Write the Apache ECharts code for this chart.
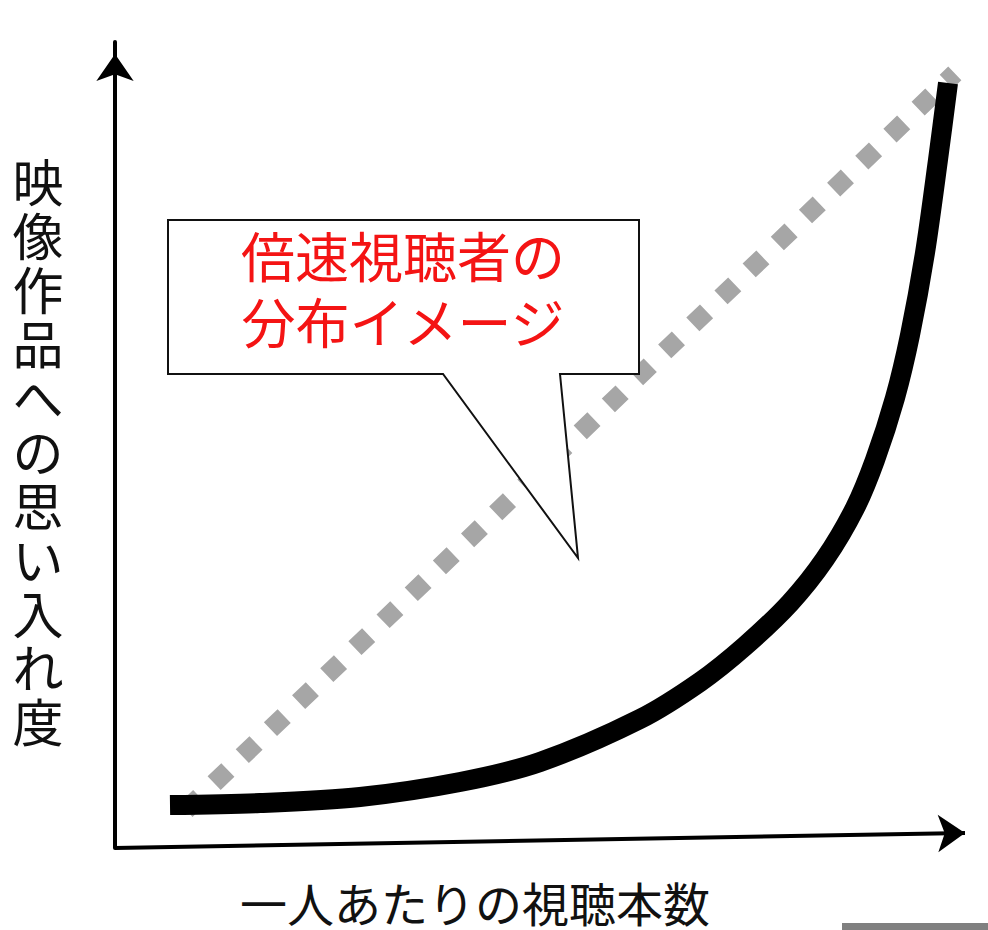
<!DOCTYPE html>
<html><head><meta charset="utf-8">
<script src="https://cdn.jsdelivr.net/npm/echarts@6/dist/echarts.min.js"></script>
<style>html,body{margin:0;padding:0;background:#fff}#c{width:988px;height:930px}</style>
</head><body><div id="c"></div>
<script>
// Data (axis units 0..100 on both axes)
const curveX = [6.47, 17.06, 28.82, 40.59, 50.0, 61.76, 68.82, 74.12, 79.41, 83.53, 87.06, 89.41, 91.76, 93.53, 95.29, 96.82, 98.0];
const curveY = [5.33, 5.58, 6.33, 8.19, 10.67, 16.0, 20.6, 25.06, 30.4, 35.86, 42.18, 48.14, 55.83, 63.65, 73.82, 85.36, 94.91];
const diagX = [8.35, 98.8];
const diagY = [4.7, 96.1];
const xAxisTitle = '一人あたりの視聴本数';
const yAxisTitle = '映像作品への思い入れ度';
const calloutLines = ['倍速視聴者の', '分布イメージ'];

const FONT = '"Noto Sans CJK JP", "Noto Sans CJK SC", sans-serif';
const chart = echarts.init(document.getElementById('c'), null, {renderer: 'svg'});

const curveData = curveX.map((x, i) => [x, curveY[i]]);
const diagData = diagX.map((x, i) => [x, diagY[i]]);

chart.setOption({
  animation: false,
  backgroundColor: '#fff',
  grid: {left: 115, right: 23, top: 42, bottom: 82},
  xAxis: {
    type: 'value', min: 0, max: 100,
    axisLine: {show: false}, axisTick: {show: false}, axisLabel: {show: false}, splitLine: {show: false}
  },
  yAxis: {
    type: 'value', min: 0, max: 100,
    axisLine: {show: true, onZero: false, symbol: ['none', 'arrow'], symbolSize: [28, 27], symbolOffset: [0, -12],
      lineStyle: {color: '#000', width: 4}},
    axisTick: {show: false}, axisLabel: {show: false}, splitLine: {show: false}
  },
  series: [
    {
      type: 'line', data: diagData, z: 1, symbol: 'none', silent: true,
      lineStyle: {color: '#a6a6a6', width: 19, type: [19, 20], cap: 'butt'}
    },
    {
      type: 'line', data: curveData, z: 2, symbol: 'none', silent: true, smooth: 0.3,
      lineStyle: {color: '#000', width: 20, cap: 'butt', join: 'round'},
      markLine: {
        silent: true, symbol: ['none', 'arrow'], symbolSize: [28, 27], label: {show: false},
        lineStyle: {color: '#000', width: 4, type: 'solid'},
        data: [[{coord: [0, 0]}, {coord: [100, 1.86]}]]
      }
    }
  ],
  graphic: [
    {
      type: 'polygon', z: 10,
      shape: {points: [[168, 220], [639, 220], [639, 374], [560, 374], [578, 558], [443, 374], [168, 374]]},
      style: {fill: '#fff', stroke: '#111', lineWidth: 2}
    },
    {
      type: 'text', z: 11, x: 403, y: 254,
      style: {text: calloutLines[0], fill: '#f41414', font: '54px ' + FONT, align: 'center', verticalAlign: 'middle', textAlign: 'center', textVerticalAlign: 'middle'}
    },
    {
      type: 'text', z: 11, x: 403, y: 320,
      style: {text: calloutLines[1], fill: '#f41414', font: '54px ' + FONT, align: 'center', verticalAlign: 'middle', textAlign: 'center', textVerticalAlign: 'middle'}
    },
    {
      type: 'text', z: 11, x: 38, y: 450,
      style: {text: yAxisTitle.split('').join('\n'), fill: '#111', font: '51px ' + FONT, lineHeight: 54,
        align: 'center', verticalAlign: 'middle', textAlign: 'center', textVerticalAlign: 'middle'}
    },
    {
      type: 'text', z: 11, x: 475, y: 901,
      style: {text: xAxisTitle, fill: '#111', font: '47px ' + FONT, align: 'center', verticalAlign: 'middle', textAlign: 'center', textVerticalAlign: 'middle'}
    },
    {
      type: 'rect', z: 11, shape: {x: 842, y: 923, width: 146, height: 7}, style: {fill: '#808080'}
    }
  ]
});
</script></body></html>
